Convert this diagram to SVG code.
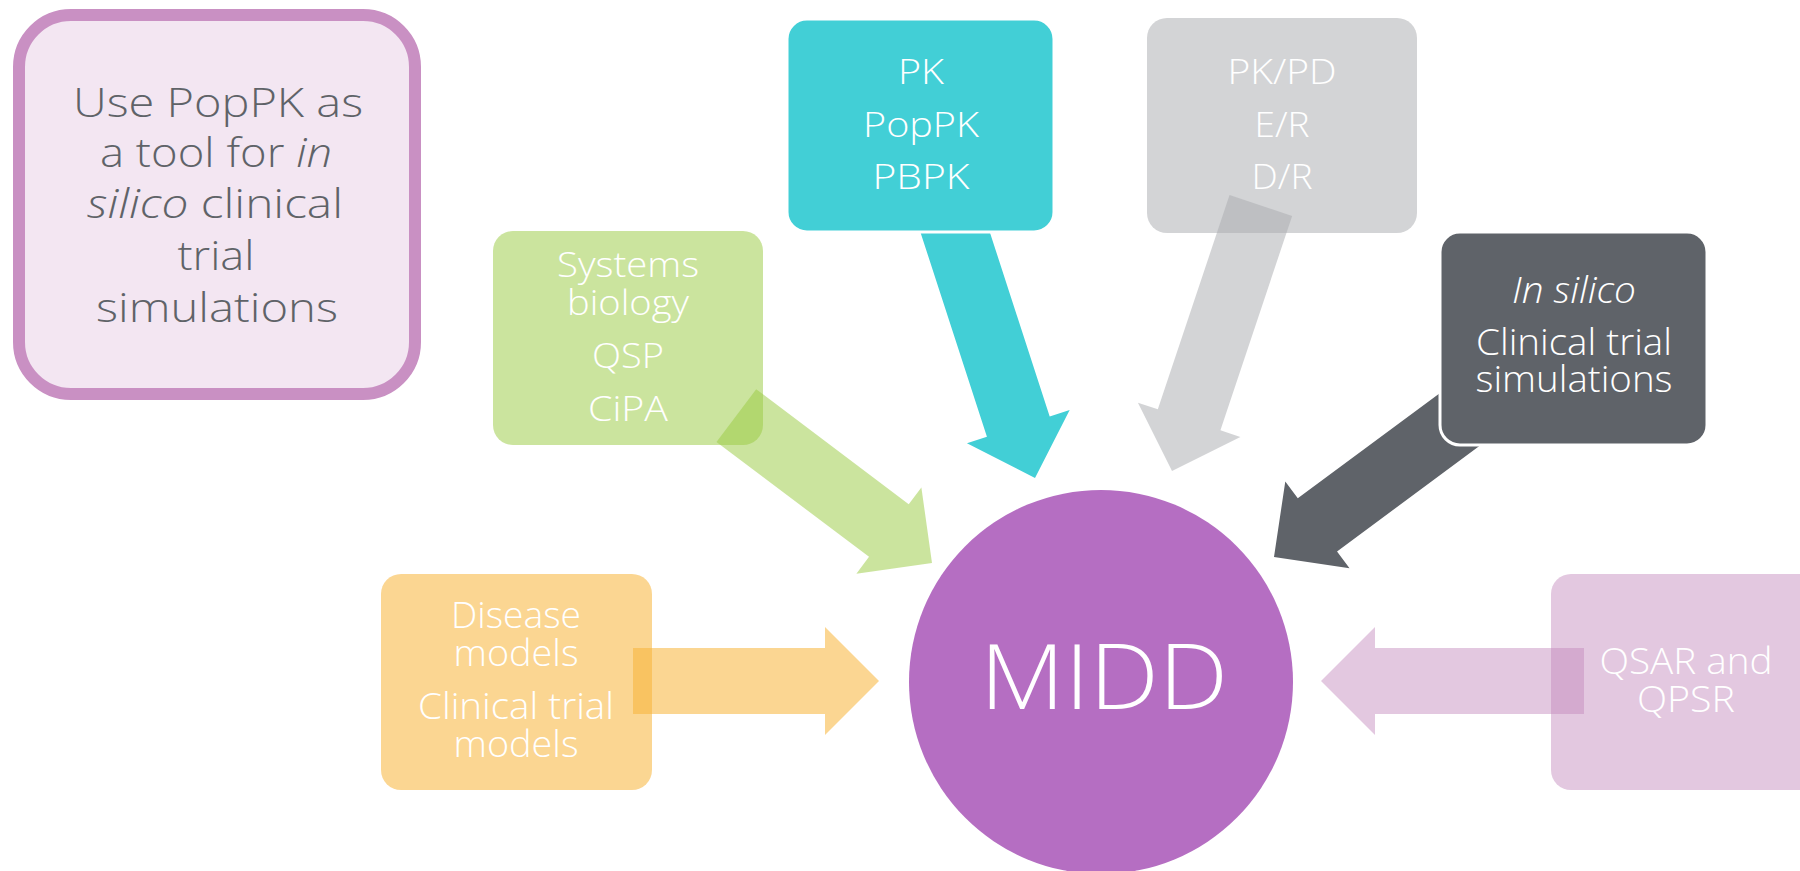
<svg xmlns="http://www.w3.org/2000/svg" width="1800" height="871" viewBox="0 0 1800 871">
<style>
.t{font-family:'Open Sans',Lato,'Noto Sans',sans-serif;font-weight:300;text-anchor:middle}
.w{fill:#ffffff}
.g{fill:#5F6368}
.i{font-style:italic}
</style>
<rect width="1800" height="871" fill="#ffffff"/>
<g id="note">
<rect x="19" y="15" width="396" height="379" rx="52" fill="#F3E6F2" stroke="#C990C3" stroke-width="12"/>
<g class="t g" font-size="41">
<text x="218" y="117" textLength="290" lengthAdjust="spacingAndGlyphs">Use PopPK as</text>
<text x="216" y="167" textLength="232" lengthAdjust="spacingAndGlyphs">a tool for <tspan class="i">in</tspan></text>
<text x="215" y="218" textLength="256" lengthAdjust="spacingAndGlyphs"><tspan class="i">silico</tspan> clinical</text>
<text x="216" y="270" textLength="77" lengthAdjust="spacingAndGlyphs">trial</text>
<text x="217" y="322" textLength="242" lengthAdjust="spacingAndGlyphs">simulations</text>
</g>
</g>
<g id="node-systems">
<rect x="493" y="231" width="270" height="214" rx="20" fill="#9BCB45" fill-opacity="0.52"/>
<g class="t w" font-size="34">
<text x="628" y="277" textLength="142" lengthAdjust="spacingAndGlyphs">Systems</text>
<text x="628" y="315" textLength="122" lengthAdjust="spacingAndGlyphs">biology</text>
<text x="628" y="368" textLength="72" lengthAdjust="spacingAndGlyphs">QSP</text>
<text x="628" y="421" textLength="80" lengthAdjust="spacingAndGlyphs">CiPA</text>
</g>
</g>
<g id="node-pkpd">
<rect x="1147" y="18" width="270" height="215" rx="20" fill="#AAACB0" fill-opacity="0.52"/>
<g class="t w" font-size="35">
<text x="1282" y="84" textLength="109" lengthAdjust="spacingAndGlyphs">PK/PD</text>
<text x="1282" y="137" textLength="55" lengthAdjust="spacingAndGlyphs">E/R</text>
<text x="1282" y="189" textLength="61" lengthAdjust="spacingAndGlyphs">D/R</text>
</g>
</g>
<g id="node-disease">
<rect x="381" y="574" width="271" height="216" rx="20" fill="#F7B538" fill-opacity="0.55"/>
<g class="t w" font-size="37">
<text x="516" y="628" textLength="130" lengthAdjust="spacingAndGlyphs">Disease</text>
<text x="516" y="666" textLength="125" lengthAdjust="spacingAndGlyphs">models</text>
<text x="516" y="719" textLength="196" lengthAdjust="spacingAndGlyphs">Clinical trial</text>
<text x="516" y="757" textLength="125" lengthAdjust="spacingAndGlyphs">models</text>
</g>
</g>
<g id="node-qsar">
<rect x="1551" y="574" width="290" height="216" rx="20" fill="#C287BC" fill-opacity="0.46"/>
<g class="t w" font-size="36">
<text x="1686" y="674" textLength="173" lengthAdjust="spacingAndGlyphs">QSAR and</text>
<text x="1686" y="712" textLength="98" lengthAdjust="spacingAndGlyphs">QPSR</text>
</g>
</g>
<g id="connectors">
<path transform="translate(879,681)" d="M-246,-33H-54V-54L0,0L-54,54V33H-246Z" fill="#F7B538" fill-opacity="0.55"/>
<path transform="translate(1321,681) rotate(180)" d="M-263,-33H-54V-54L0,0L-54,54V33H-263Z" fill="#C287BC" fill-opacity="0.46"/>
<path transform="translate(932,563) rotate(37)" d="M-245,-33H-54V-54L0,0L-54,54V33H-245Z" fill="#9BCB45" fill-opacity="0.52"/>
<path transform="translate(1172,471) rotate(108.5)" d="M-280,-33H-54V-54L0,0L-54,54V33H-280Z" fill="#AAACB0" fill-opacity="0.52"/>
<path transform="translate(1035,478) rotate(72)" d="M-290,-33H-54V-54L0,0L-54,54V33H-290Z" fill="#42CFD6"/>
<path transform="translate(1274,557) rotate(143.5)" d="M-260,-33H-54V-54L0,0L-54,54V33H-260Z" fill="#5F6369"/>
</g>
<g id="node-pk">
<rect x="787" y="19" width="267" height="213" rx="20" fill="#42CFD6" stroke="#ffffff" stroke-width="3"/>
<g class="t w" font-size="35">
<text x="921" y="84" textLength="46" lengthAdjust="spacingAndGlyphs">PK</text>
<text x="921" y="137" textLength="116" lengthAdjust="spacingAndGlyphs">PopPK</text>
<text x="921" y="189" textLength="97" lengthAdjust="spacingAndGlyphs">PBPK</text>
</g>
</g>
<g id="node-insilico">
<rect x="1440" y="232" width="267" height="213" rx="20" fill="#5F6369" stroke="#ffffff" stroke-width="3"/>
<g class="t w" font-size="37">
<text class="i" x="1574" y="303" textLength="124" lengthAdjust="spacingAndGlyphs">In silico</text>
<text x="1574" y="355" textLength="196" lengthAdjust="spacingAndGlyphs">Clinical trial</text>
<text x="1574" y="392" textLength="197" lengthAdjust="spacingAndGlyphs">simulations</text>
</g>
</g>
<g id="node-midd">
<circle cx="1101" cy="682" r="192" fill="#B56EC2"/>
<text class="t w" x="1104" y="709" font-size="90" textLength="248" lengthAdjust="spacingAndGlyphs">MIDD</text>
</g>
</svg>
